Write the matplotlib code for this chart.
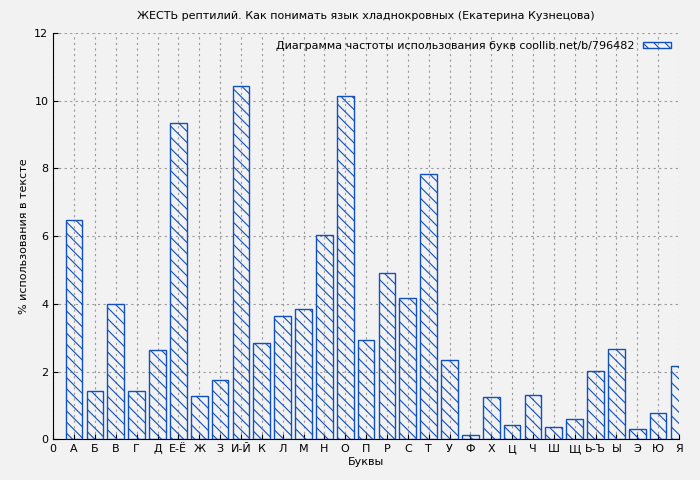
import matplotlib
matplotlib.use("Agg")
import matplotlib.pyplot as plt

# ---- data ---------------------------------------------------------------
letters = ["А", "Б", "В", "Г", "Д", "Е-Ё", "Ж", "З", "И-Й", "К", "Л", "М", "Н",
           "О", "П", "Р", "С", "Т", "У", "Ф", "Х", "Ц", "Ч", "Ш", "Щ", "Ь-Ъ",
           "Ы", "Э", "Ю", "Я"]
percent = [6.47, 1.43, 4.0, 1.43, 2.63, 9.33, 1.28, 1.75, 10.45, 2.85, 3.65,
           3.85, 6.03, 10.15, 2.93, 4.9, 4.18, 7.85, 2.35, 0.13, 1.25, 0.43,
           1.32, 0.37, 0.6, 2.02, 2.67, 0.3, 0.78, 2.17]

plt.rcParams['hatch.color'] = '#1050c0'
plt.rcParams['hatch.linewidth'] = 0.8

fig = plt.figure(figsize=(7, 4.8), dpi=100)
fig.patch.set_facecolor('#f2f2f2')
ax = fig.add_axes([0.076, 0.085, 0.894, 0.846])
ax.set_facecolor('#f2f2f2')

x = list(range(1, len(letters) + 1))
ax.bar(x, percent, width=0.8, facecolor='none', edgecolor='#1050c0',
       linewidth=1.0, hatch='\\\\\\', label="Диаграмма частоты использования букв coollib.net/b/796482",
       zorder=3)

ax.set_xlim(0, 30)
ax.set_ylim(0, 12)
ax.set_xticks([0] + x)
ax.set_xticklabels(["0"] + letters, fontsize=8)
ax.set_yticks(range(0, 13, 2))
ax.tick_params(labelsize=8, direction='in')
ax.grid(True, color='#999999', linestyle=(0, (2, 3)), linewidth=0.8, zorder=0)
for s in ['top', 'right']:
    ax.spines[s].set_visible(False)

ax.set_xlabel("Буквы", fontsize=8, labelpad=2)
ax.set_ylabel("% использования в тексте", fontsize=8)
ax.set_title("ЖЕСТЬ рептилий. Как понимать язык хладнокровных (Екатерина Кузнецова)",
             fontsize=8, pad=10)
ax.legend(loc='upper right', fontsize=8, frameon=False, handlelength=2.5,
          handleheight=0.5, borderaxespad=0.3, markerfirst=False)

fig.savefig("out.png", dpi=100, facecolor=fig.get_facecolor())
